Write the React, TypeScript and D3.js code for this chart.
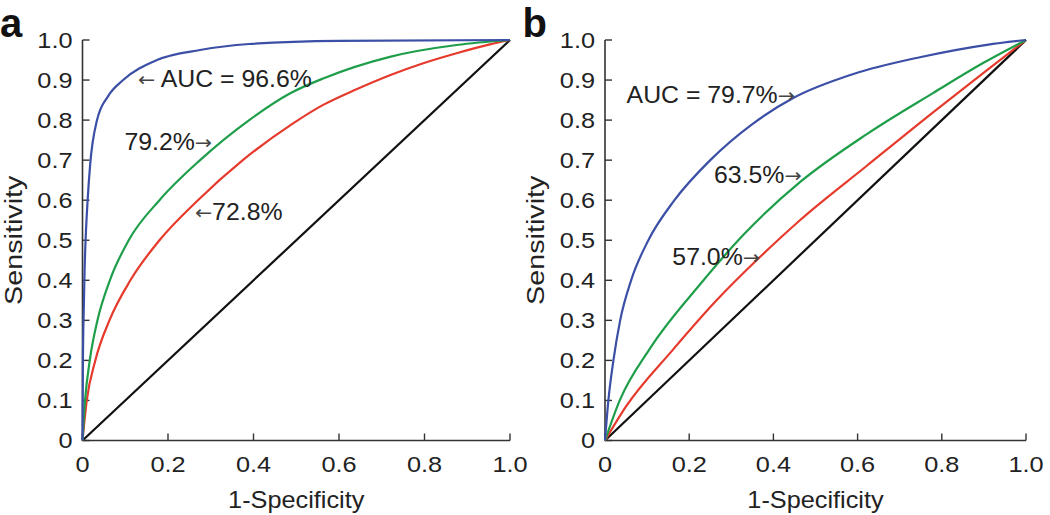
import React from "react";
import * as d3 from "d3";

const xTicks = [0, 0.2, 0.4, 0.6, 0.8, 1.0];
const xTickLabels = ["0", "0.2", "0.4", "0.6", "0.8", "1.0"];
const yTicks = [0, 0.1, 0.2, 0.3, 0.4, 0.5, 0.6, 0.7, 0.8, 0.9, 1.0];
const yTickLabels = ["0", "0.1", "0.2", "0.3", "0.4", "0.5", "0.6", "0.7", "0.8", "0.9", "1.0"];

// Panel a
const aBlueFpr = [0, 0.001, 0.003, 0.005, 0.008, 0.012, 0.018, 0.034, 0.06, 0.095, 0.174, 0.275, 0.39, 0.6, 1];
const aBlueTpr = [0, 0.2, 0.33, 0.43, 0.52, 0.6, 0.69, 0.8, 0.86, 0.9, 0.95, 0.975, 0.99, 0.998, 1];
const aGreenFpr = [0, 0.006, 0.017, 0.035, 0.064, 0.108, 0.18, 0.275, 0.39, 0.486, 0.563, 0.719, 0.875, 1];
const aGreenTpr = [0, 0.1, 0.2, 0.3, 0.4, 0.5, 0.6, 0.7, 0.8, 0.867, 0.904, 0.958, 0.9875, 1];
const aRedFpr = [0, 0.01, 0.03, 0.063, 0.112, 0.18, 0.27, 0.375, 0.49, 0.563, 0.641, 0.719, 0.797, 0.875, 0.953, 1];
const aRedTpr = [0, 0.1, 0.2, 0.3, 0.4, 0.5, 0.6, 0.7, 0.79, 0.838, 0.877, 0.912, 0.942, 0.967, 0.989, 1];

// Panel b
const bBlueFpr = [0, 0.008, 0.02, 0.036, 0.062, 0.103, 0.165, 0.25, 0.35, 0.447, 0.59, 0.748, 0.907, 1];
const bBlueTpr = [0, 0.1, 0.2, 0.3, 0.4, 0.5, 0.6, 0.7, 0.79, 0.855, 0.915, 0.957, 0.988, 1];
const bGreenFpr = [0, 0.035, 0.107, 0.226, 0.33, 0.463, 0.622, 0.78, 0.899, 1];
const bGreenTpr = [0, 0.1, 0.23, 0.39, 0.515, 0.645, 0.765, 0.868, 0.943, 1];
const bRedFpr = [0, 0.05, 0.16, 0.265, 0.368, 0.463, 0.622, 0.78, 0.899, 1];
const bRedTpr = [0, 0.085, 0.225, 0.35, 0.458, 0.55, 0.686, 0.82, 0.918, 1];

const diagFpr = [0, 1];
const diagTpr = [0, 1];

// Annotations: label, anchor fpr, anchor tpr, arrow side
const aLabels = ["AUC = 96.6%", "79.2%", "72.8%"];
const aLabelFpr = [0.13, 0.303, 0.263];
const aLabelTpr = [0.883, 0.725, 0.55];
const aLabelArrow = ["left", "right", "left"];

const bLabels = ["AUC = 79.7%", "63.5%", "57.0%"];
const bLabelFpr = [0.451, 0.467, 0.368];
const bLabelTpr = [0.843, 0.643, 0.438];
const bLabelArrow = ["right", "right", "right"];

const BLUE = "#3c4fa6";
const GREEN = "#1f9e4a";
const RED = "#e53a2c";
const BLACK = "#111111";
const AXIS = "#333333";
const FONT = "'Liberation Sans', Arial, Helvetica, sans-serif";
const ARROW_FONT = "'DejaVu Sans', sans-serif";

type Series = { fpr: number[]; tpr: number[]; color: string };

function Panel({
  letter,
  x0,
  x1,
  series,
  labels,
  labelFpr,
  labelTpr,
  labelArrow,
}: {
  letter: string;
  x0: number;
  x1: number;
  series: Series[];
  labels: string[];
  labelFpr: number[];
  labelTpr: number[];
  labelArrow: string[];
}) {
  const yBottom = 440.5;
  const yTop = 40;
  const x = d3.scaleLinear().domain([0, 1]).range([x0, x1]);
  const y = d3.scaleLinear().domain([0, 1]).range([yBottom, yTop]);
  const line = d3
    .line<[number, number]>()
    .x((d) => x(d[0]))
    .y((d) => y(d[1]))
    .curve(d3.curveMonotoneX);

  return (
    <g fontFamily={FONT}>
      <text x={x0 - 82.5} y={37} fontSize={40} fontWeight="bold" fill="#111">
        {letter}
      </text>
      {/* axes */}
      <line x1={x0} y1={yBottom} x2={x0} y2={yTop} stroke={AXIS} strokeWidth={1.6} />
      <line x1={x0} y1={yBottom} x2={x1} y2={yBottom} stroke={AXIS} strokeWidth={1.6} />
      {yTicks.map((t, i) => (
        <g key={"y" + i}>
          <line x1={x0} x2={x0 + 7} y1={y(t)} y2={y(t)} stroke={AXIS} strokeWidth={1.4} />
          <text
            transform={`translate(${x0 - 10},${y(t)}) scale(1.15,1)`}
            dy="0.36em"
            textAnchor="end"
            fontSize={22}
            fill="#222"
          >
            {yTickLabels[i]}
          </text>
        </g>
      ))}
      {xTicks.map((t, i) => (
        <g key={"x" + i}>
          <line x1={x(t)} x2={x(t)} y1={yBottom} y2={yBottom - 7} stroke={AXIS} strokeWidth={1.4} />
          <text
            transform={`translate(${x(t)},${yBottom + 31.5}) scale(1.15,1)`}
            textAnchor="middle"
            fontSize={22}
            fill="#222"
          >
            {xTickLabels[i]}
          </text>
        </g>
      ))}
      <text
        transform={`translate(${(x0 + x1) / 2},508) scale(1.1,1)`}
        textAnchor="middle"
        fontSize={23}
        fill="#222"
      >
        1-Specificity
      </text>
      <text
        transform={`translate(${x0 - 61},${(yTop + yBottom) / 2}) rotate(-90) scale(1.25,1)`}
        textAnchor="middle"
        fontSize={23}
        fill="#222"
      >
        Sensitivity
      </text>
      {/* curves */}
      {series.map((s, i) => (
        <path
          key={"s" + i}
          d={line(s.fpr.map((f, j) => [f, s.tpr[j]] as [number, number])) || ""}
          fill="none"
          stroke={s.color}
          strokeWidth={2.2}
        />
      ))}
      {/* annotations */}
      {labels.map((lab, i) => (
        <text
          key={"l" + i}
          transform={`translate(${x(labelFpr[i])},${y(labelTpr[i])}) scale(1.08,1)`}
          textAnchor={labelArrow[i] === "left" ? "start" : "end"}
          fontSize={23}
          fill="#222"
        >
          {labelArrow[i] === "left" ? (
            <>
              <tspan fontFamily={ARROW_FONT} fontSize={19} fill="#444" dy={-1}>←</tspan>
              <tspan dy={1}>{(i === 0 ? " " : "") + lab}</tspan>
            </>
          ) : (
            <>
              <tspan>{lab}</tspan>
              <tspan fontFamily={ARROW_FONT} fontSize={19} fill="#444" dy={-1}>→</tspan>
            </>
          )}
        </text>
      ))}
    </g>
  );
}

export default function App() {
  const aSeries: Series[] = [
    { fpr: diagFpr, tpr: diagTpr, color: BLACK },
    { fpr: aRedFpr, tpr: aRedTpr, color: RED },
    { fpr: aGreenFpr, tpr: aGreenTpr, color: GREEN },
    { fpr: aBlueFpr, tpr: aBlueTpr, color: BLUE },
  ];
  const bSeries: Series[] = [
    { fpr: diagFpr, tpr: diagTpr, color: BLACK },
    { fpr: bRedFpr, tpr: bRedTpr, color: RED },
    { fpr: bGreenFpr, tpr: bGreenTpr, color: GREEN },
    { fpr: bBlueFpr, tpr: bBlueTpr, color: BLUE },
  ];
  return (
    <svg
      width={1050}
      height={515}
      style={{ position: "absolute", left: 0, top: 0, background: "#fff" }}
    >
      <rect width={1050} height={515} fill="#fff" />
      <Panel
        letter="a"
        x0={82.5}
        x1={510}
        series={aSeries}
        labels={aLabels}
        labelFpr={aLabelFpr}
        labelTpr={aLabelTpr}
        labelArrow={aLabelArrow}
      />
      <Panel
        letter="b"
        x0={605}
        x1={1026}
        series={bSeries}
        labels={bLabels}
        labelFpr={bLabelFpr}
        labelTpr={bLabelTpr}
        labelArrow={bLabelArrow}
      />
    </svg>
  );
}
